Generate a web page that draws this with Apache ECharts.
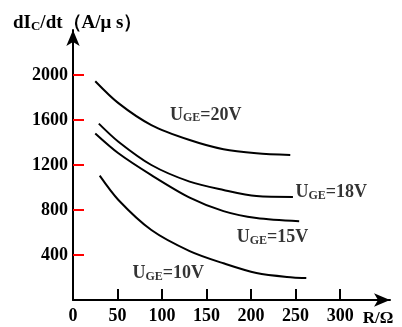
<!DOCTYPE html>
<html>
<head>
<meta charset="utf-8">
<script src="https://cdn.jsdelivr.net/npm/echarts@6/dist/echarts.min.js"></script>
<style>
html, body { margin: 0; padding: 0; background: #fff; }
#chart { width: 402px; height: 327px; }
</style>
</head>
<body>
<div id="chart"></div>
<script>
// dIc/dt vs gate resistance, one curve per gate voltage
var r20 = [25, 51, 88, 131, 169, 206, 244];
var v20 = [1945, 1750, 1555, 1422, 1340, 1304, 1288];

var r18 = [29, 51, 88, 131, 169, 206, 247];
var v18 = [1568, 1407, 1200, 1052, 978, 924, 916];

var r15 = [25, 51, 88, 131, 169, 206, 254];
var v15 = [1480, 1304, 1110, 910, 790, 728, 700];

var r10 = [30, 51, 88, 131, 169, 206, 247, 262];
var v10 = [1105, 889, 622, 435, 326, 240, 200, 195];

var xTicks = [50, 100, 150, 200, 250, 300];
var xLabels = [0, 50, 100, 150, 200, 250, 300];
var yTicks = [400, 800, 1200, 1600, 2000];

// curve labels (U_GE = ...)
var labelR = [149, 290, 224, 107];
var labelV = [1653, 963, 563, 244];
var labelText = ['20V', '18V', '15V', '10V'];

var serif = "'Liberation Serif', 'DejaVu Serif', serif";

function pairs(xs, ys) {
    return xs.map(function (x, i) { return [x, ys[i]]; });
}

function curve(xs, ys) {
    return {
        type: 'line',
        data: pairs(xs, ys),
        smooth: 0.3,
        showSymbol: false,
        lineStyle: { color: '#000', width: 2 }
    };
}

var labelData = labelText.map(function (t, i) {
    return { name: t, value: [labelR[i], labelV[i]] };
});

var chart = echarts.init(document.getElementById('chart'));
chart.setOption({
    animation: false,
    title: {
        text: '{d|dI}{c|C}{d|/dt（A/μ s）}',
        left: 8,
        top: 7,
        textStyle: {
            rich: {
                d: { fontFamily: serif, fontWeight: 'bold', fontSize: 19, color: '#000', verticalAlign: 'bottom', lineHeight: 21 },
                c: { fontFamily: serif, fontWeight: 'bold', fontSize: 13, color: '#000', verticalAlign: 'bottom', lineHeight: 19 }
            }
        }
    },
    grid: { left: 73, right: 12, top: 30, bottom: 27 },
    xAxis: {
        type: 'value',
        min: 0,
        max: 356,
        name: 'R/Ω',
        nameLocation: 'end',
        nameGap: -12,
        nameTextStyle: {
            fontFamily: serif, fontWeight: 'bold', fontSize: 17, color: '#000',
            align: 'center', verticalAlign: 'top', padding: [10, 0, 0, 0]
        },
        axisLine: {
            symbol: ['none', 'arrow'],
            symbolSize: [10, 16],
            lineStyle: { color: '#000', width: 2 }
        },
        axisTick: {
            show: true,
            inside: true,
            length: 11,
            customValues: xTicks,
            lineStyle: { color: '#000', width: 2 }
        },
        axisLabel: {
            customValues: xLabels,
            color: '#000',
            fontFamily: serif,
            fontWeight: 'bold',
            fontSize: 18,
            margin: 7
        },
        splitLine: { show: false }
    },
    yAxis: {
        type: 'value',
        min: 0,
        max: 2400,
        axisLine: {
            symbol: ['none', 'arrow'],
            symbolSize: [10, 16],
            lineStyle: { color: '#000', width: 2 }
        },
        axisTick: {
            show: true,
            inside: true,
            length: 11,
            customValues: yTicks,
            lineStyle: { color: '#f00', width: 2 }
        },
        axisLabel: {
            customValues: yTicks,
            formatter: function (v) { return String(v); },
            color: '#000',
            fontFamily: serif,
            fontWeight: 'bold',
            fontSize: 18,
            margin: 5
        },
        splitLine: { show: false }
    },
    series: [
        curve(r20, v20),
        curve(r18, v18),
        curve(r15, v15),
        curve(r10, v10),
        {
            type: 'scatter',
            symbolSize: 0,
            data: labelData,
            label: {
                show: true,
                position: 'inside',
                formatter: function (p) {
                    return '{u|U}{s|GE}{u|=' + p.name + '}';
                },
                rich: {
                    u: { fontFamily: serif, fontWeight: 'bold', fontSize: 18, color: '#000', verticalAlign: 'bottom', lineHeight: 20 },
                    s: { fontFamily: serif, fontWeight: 'bold', fontSize: 12, color: '#000', verticalAlign: 'bottom', lineHeight: 18 }
                }
            }
        }
    ]
});
</script>
</body>
</html>
